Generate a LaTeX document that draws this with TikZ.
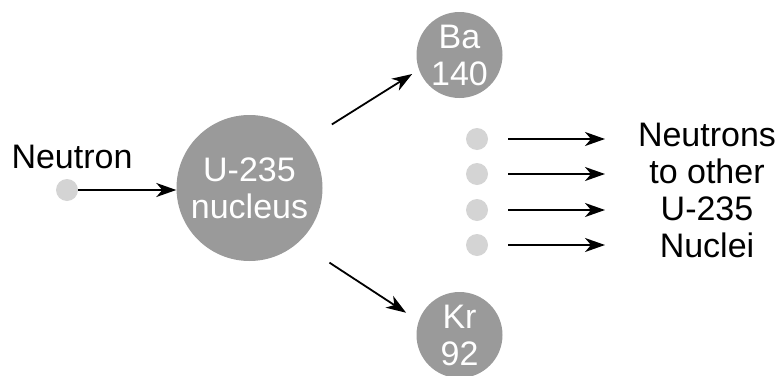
\documentclass[tikz,border=0pt]{standalone}
\usepackage{fontspec}
\setmainfont{Liberation Sans}
\usetikzlibrary{arrows.meta}
\definecolor{nucgray}{HTML}{9A9A9A}
\definecolor{dotgray}{HTML}{D4D4D4}
\begin{document}
\begin{tikzpicture}[x=1pt,y=-1pt,
  txt/.style={font=\fontsize{34}{37}\selectfont, align=center, inner sep=0pt},
  nucleus/.style={circle, fill=nucgray, text=white, txt},
  neutron/.style={circle, fill=dotgray, minimum size=22pt, inner sep=0pt},
  arr/.style={line width=1.8pt, -{Stealth[length=20pt,width=14pt,inset=6pt]}}]
\useasboundingbox (0,0) rectangle (781,375);
% nuclei
\node[nucleus, minimum size=146pt] (u) at (249.5,188) {U-235\\nucleus};
\node[nucleus, minimum size=86pt] (ba) at (459.5,55) {Ba\\140};
\node[nucleus, minimum size=86pt] (kr) at (459.5,335) {Kr\\92};
% incoming neutron
\node[txt] (nl) at (72,157) {Neutron};
\node[neutron] (n) at (67,190) {};
\draw[arr] (n) -- (u.west |- n);
% fission products
\draw[arr, shorten <=31pt, shorten >=8pt] (u.40.9) -- (ba.-160.3);
\draw[arr, shorten <=37pt, shorten >=15pt] (u.-48.5) -- (kr.161.7);
% released neutrons
\foreach \i/\y in {1/139,2/174,3/210,4/245}{
  \node[neutron] (d\i) at (477,\y) {};
  \coordinate (e\i) at (605,\y);
  \draw[arr, shorten <=20pt] (d\i) -- (e\i);
}
\node[txt] (lab) at (707,190) {Neutrons\\to other\\U-235\\Nuclei};
\end{tikzpicture}
\end{document}
